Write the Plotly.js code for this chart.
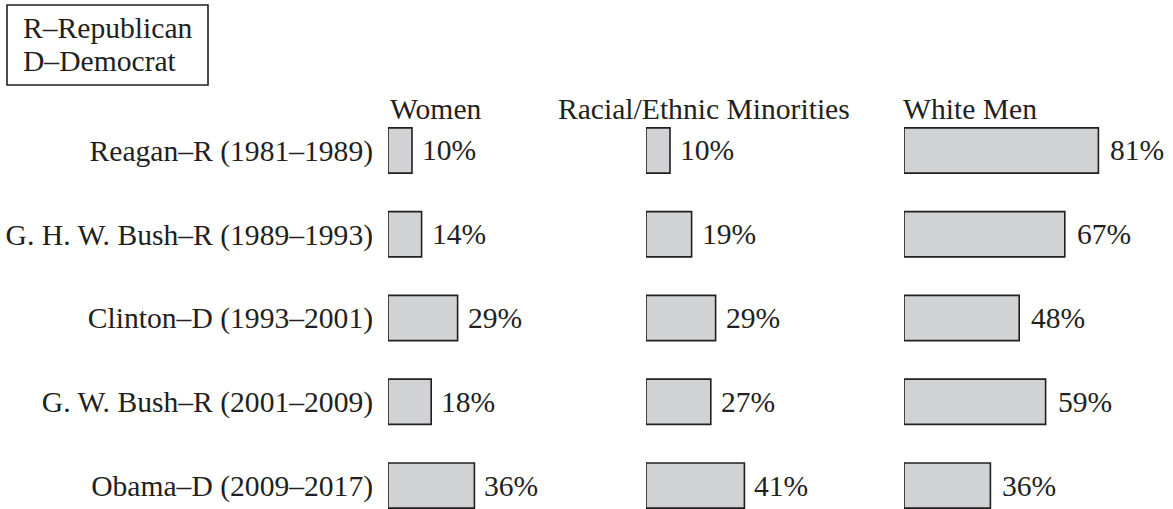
<!DOCTYPE html>
<html>
<head>
<meta charset="utf-8">
<script src="https://cdn.plot.ly/plotly-3.0.1.min.js"></script>
<style>
html,body{margin:0;padding:0;background:#fff;}
#chart{width:1173px;height:509px;}
</style>
</head>
<body>
<div id="chart"></div>
<script>
const presidents = ["Reagan–R (1981–1989)", "G. H. W. Bush–R (1989–1993)", "Clinton–D (1993–2001)", "G. W. Bush–R (2001–2009)", "Obama–D (2009–2017)"];
const women = [10, 14, 29, 18, 36];
const minorities = [10, 19, 29, 27, 41];
const whiteMen = [81, 67, 48, 59, 36];
const panelTitles = ["Women", "Racial/Ethnic Minorities", "White Men"];
const legendLines = ["R–Republican", "D–Democrat"];

const W = 1173, H = 509;
const FONT = "Liberation Serif, Times New Roman, serif";
const INK = "#231f20";
const FS = 29.6;

const series = [women, minorities, whiteMen];
const xNames = ["x", "x2", "x3"];
const panelLeft = [388, 646, 904];
const panelWidth = 240;
const titleLeft = [390, 558, 903];

const traces = series.map((vals, p) => ({
  type: "bar",
  orientation: "h",
  x: vals,
  y: presidents,
  xaxis: xNames[p],
  yaxis: "y",
  width: 0.54,
  marker: {color: "#d1d2d4", line: {color: INK, width: 1.6}},
  cliponaxis: false,
  hoverinfo: "skip",
  showlegend: false
}));

const annotations = [];
series.forEach((vals, p) => {
  vals.forEach((v, i) => {
    annotations.push({
      x: v, y: presidents[i], xref: xNames[p], yref: "y",
      text: v + "%", showarrow: false, xanchor: "left", yanchor: "middle",
      xshift: p === 2 ? 10 : 8, font: {family: FONT, size: FS, color: INK}
    });
  });
  annotations.push({
    x: (titleLeft[p] - panelLeft[p]) / panelWidth, y: 1 - 109 / H,
    xref: xNames[p] + " domain", yref: "paper",
    text: panelTitles[p], showarrow: false, xanchor: "left", yanchor: "middle",
    xshift: -2, font: {family: FONT, size: FS, color: INK}
  });
});
const legendY = [28, 61];
legendLines.forEach((t, k) => {
  annotations.push({
    x: 23 / W, y: 1 - legendY[k] / H, xref: "paper", yref: "paper",
    text: t, showarrow: false, xanchor: "left", yanchor: "middle",
    xshift: -2, font: {family: FONT, size: FS, color: INK}
  });
});

const xaxisBase = (p) => ({
  domain: [panelLeft[p] / W, (panelLeft[p] + panelWidth) / W],
  range: [0, 100], visible: false, fixedrange: true, anchor: "y"
});

const layout = {
  width: W, height: H,
  margin: {l: 0, r: 0, t: 0, b: 0, pad: 0},
  paper_bgcolor: "#fff", plot_bgcolor: "rgba(0,0,0,0)",
  xaxis: xaxisBase(0),
  xaxis2: xaxisBase(1),
  xaxis3: xaxisBase(2),
  yaxis: {
    type: "category", categoryarray: presidents, categoryorder: "array",
    domain: [0, (H - 108.6) / H],
    range: [4.28, -0.5],
    anchor: "x",
    showgrid: false, zeroline: false, showline: false,
    ticks: "outside", ticklen: 8, tickcolor: "rgba(0,0,0,0)",
    tickfont: {family: FONT, size: FS, color: INK},
    fixedrange: true
  },
  shapes: [{
    type: "rect", xref: "paper", yref: "paper",
    x0: 7 / W, x1: 208 / W, y0: 1 - 85 / H, y1: 1 - 5 / H,
    line: {color: INK, width: 1.6}, fillcolor: "rgba(0,0,0,0)"
  }],
  annotations: annotations,
  font: {family: FONT, color: INK}
};

Plotly.newPlot("chart", traces, layout, {displayModeBar: false, staticPlot: true});
</script>
</body>
</html>
